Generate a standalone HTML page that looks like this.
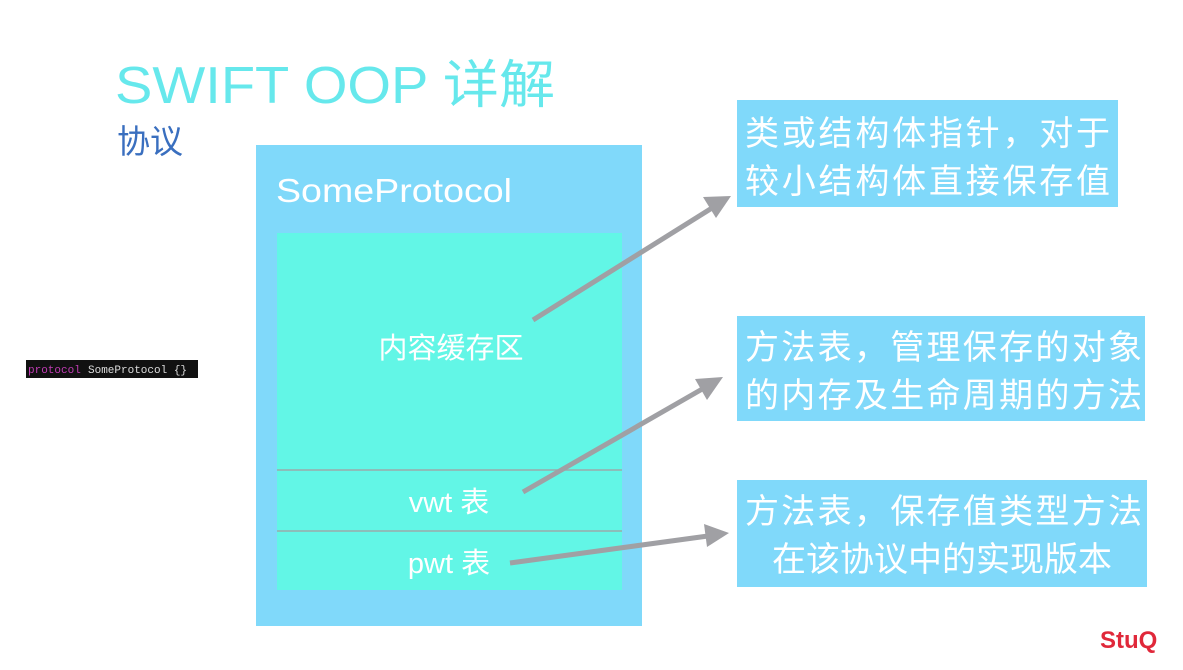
<!DOCTYPE html>
<html><head><meta charset="utf-8"><style>
html,body{margin:0;padding:0;background:#fff;}
svg{display:block;}
text{font-family:"Liberation Sans","Noto Sans CJK SC",sans-serif;}
</style></head><body>
<svg width="1183" height="670" viewBox="0 0 1183 670" xmlns="http://www.w3.org/2000/svg">
<rect width="1183" height="670" fill="#fff"/>
<text x="115" y="103" font-size="52" fill="#66e8ec" textLength="440" lengthAdjust="spacingAndGlyphs">SWIFT OOP 详解</text>
<text x="117" y="153" font-size="33" fill="#3a6fbf">协议</text>

<rect x="26" y="360" width="172" height="18" fill="#111"/>
<text x="28" y="373" font-size="11" fill="#c03cb4" style="font-family:'Liberation Mono',monospace">protocol</text>
<text x="88" y="373" font-size="11" fill="#ddd" style="font-family:'Liberation Mono',monospace">SomeProtocol {}</text>

<rect x="256" y="145" width="386" height="481" fill="#80d9fa"/>
<text x="276" y="202" font-size="33" fill="#fff" textLength="236" lengthAdjust="spacingAndGlyphs">SomeProtocol</text>
<rect x="277" y="233" width="345" height="357" fill="#62f6e6"/>
<line x1="277" y1="470" x2="622" y2="470" stroke="#9aa" stroke-width="1.5"/>
<line x1="277" y1="531" x2="622" y2="531" stroke="#9aa" stroke-width="1.5"/>
<text x="451" y="358" font-size="29" fill="#fff" text-anchor="middle">内容缓存区</text>
<text x="449" y="512" font-size="29" fill="#fff" text-anchor="middle">vwt 表</text>
<text x="449" y="573" font-size="29" fill="#fff" text-anchor="middle">pwt 表</text>

<rect x="737" y="100" width="381" height="107" fill="#80d9fa"/>
<text x="745" y="145" font-size="34" fill="#fff" textLength="365">类或结构体指针，对于</text>
<text x="745" y="193" font-size="34" fill="#fff" textLength="365">较小结构体直接保存值</text>

<rect x="737" y="316" width="408" height="105" fill="#80d9fa"/>
<text x="745" y="359" font-size="34" fill="#fff" textLength="397">方法表，管理保存的对象</text>
<text x="745" y="407" font-size="34" fill="#fff" textLength="397">的内存及生命周期的方法</text>

<rect x="737" y="480" width="410" height="107" fill="#80d9fa"/>
<text x="745" y="523" font-size="34" fill="#fff" textLength="397">方法表，保存值类型方法</text>
<text x="942" y="571" font-size="34" fill="#fff" text-anchor="middle">在该协议中的实现版本</text>

<g stroke="#a0a0a4" stroke-width="5" fill="#a0a0a4">
<line x1="533" y1="320" x2="712" y2="208"/>
<line x1="523" y1="492" x2="704" y2="388"/>
<line x1="510" y1="563" x2="708" y2="536"/>
</g>
<g fill="#a0a0a4">
<polygon points="731,196 703,197 716,218"/>
<polygon points="723,377 695,379 707,400"/>
<polygon points="729,533 704,524 707,547"/>
</g>

<text x="1100" y="648" font-size="24" font-weight="bold" fill="#e0283a">StuQ</text>
</svg>
</body></html>
